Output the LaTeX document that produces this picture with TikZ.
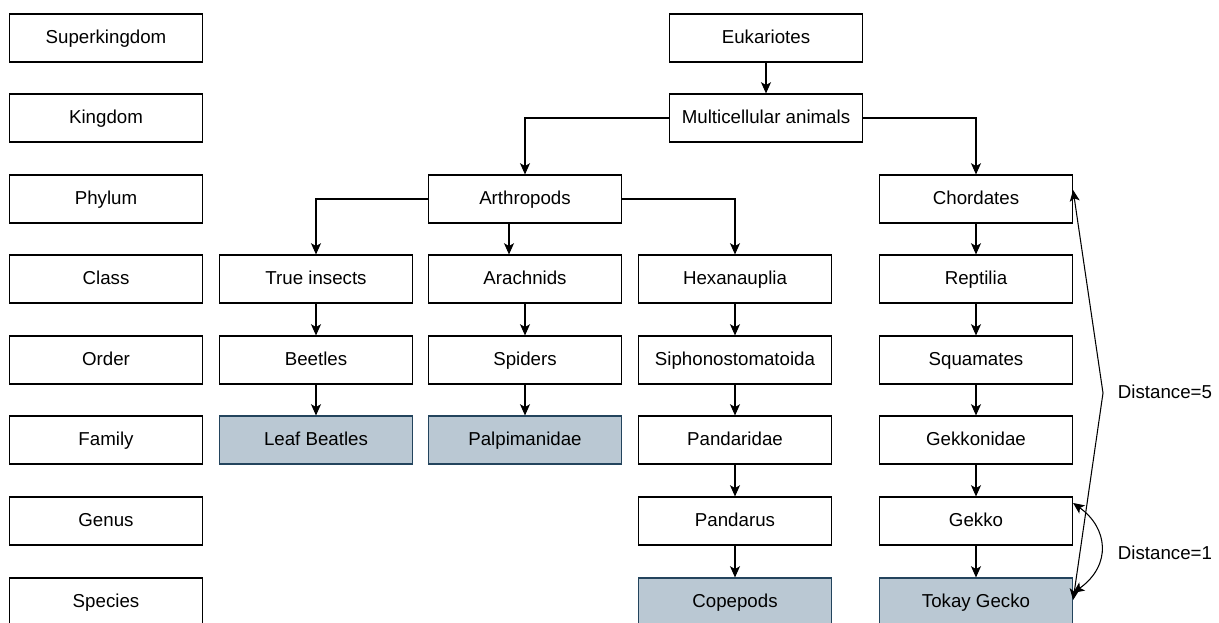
\documentclass[tikz,border=0pt]{standalone}
\usepackage{fontspec}
\setmainfont{Liberation Sans}
\usepackage{tikz}
\usetikzlibrary{arrows.meta,calc}

\definecolor{leaffill}{HTML}{BAC8D3}
\definecolor{leafdraw}{HTML}{23445D}

\tikzset{
  rank/.style={draw, line width=0.8pt, minimum width=4.825cm, minimum height=1.2cm, inner sep=0pt,
    text height=0.84em, text depth=0pt, font=\fontsize{13.3}{15}\selectfont},
  leaf/.style={rank, fill=leaffill, draw=leafdraw},
  arr/.style={line width=0.8pt, -{Stealth[length=2.8mm,width=2.5mm,inset=0.7mm]}},
  dist/.style={line width=0.75pt, {Stealth[length=2.8mm,width=2.5mm,inset=0.7mm]}-{Stealth[length=2.8mm,width=2.5mm,inset=0.7mm]}},
}

\begin{document}
\begin{tikzpicture}[x=0.025cm, y=-0.025cm]
\useasboundingbox (0,0) rectangle (1219,623);
%ranks
\node[rank] (superk) at (106,38) {Superkingdom};
\node[rank] (kingd) at (106,118) {Kingdom};
\node[rank] (phyl) at (106,199) {Phylum};
\node[rank] (clas) at (106,279) {Class};
\node[rank] (ordr) at (106,360) {Order};
\node[rank] (fami) at (106,440) {Family};
\node[rank] (genu) at (106,521) {Genus};
\node[rank] (spec) at (106,602) {Species};
%top
\node[rank] (euk) at (766,38) {Eukariotes};
\node[rank] (multi) at (766,118) {Multicellular animals};
\draw[arr] (euk) -- (multi);
%arthropods
\node[rank] (arth) at (525,199) {Arthropods};
\node[rank] (insects) at (316,279) {True insects};
\node[rank] (beetles) at (316,360) {Beetles};
\node[leaf] (leafb) at (316,440) {Leaf Beatles};
\node[rank] (arach) at (525,279) {Arachnids};
\node[rank] (spiders) at (525,360) {Spiders};
\node[leaf] (palpi) at (525,440) {Palpimanidae};
\node[rank] (hexa) at (735,279) {Hexanauplia};
\node[rank] (sipho) at (735,360) {Siphonostomatoida};
\node[rank] (pandae) at (735,440) {Pandaridae};
\node[rank] (pandus) at (735,521) {Pandarus};
\node[leaf] (cope) at (735,602) {Copepods};
\draw[arr] (multi.west) -| (arth.north);
\draw[arr] (arth.west) -| (insects.north);
\draw[arr] ($(arth.south)+(-16,0)$) -- ($(arach.north)+(-16,0)$);
\draw[arr] (arth.east) -| (hexa.north);
\draw[arr] (insects) -- (beetles);
\draw[arr] (beetles) -- (leafb);
\draw[arr] (arach) -- (spiders);
\draw[arr] (spiders) -- (palpi);
\draw[arr] (hexa) -- (sipho);
\draw[arr] (sipho) -- (pandae);
\draw[arr] (pandae) -- (pandus);
\draw[arr] (pandus) -- (cope);
%chordates
\node[rank] (chord) at (976,199) {Chordates};
\node[rank] (rept) at (976,279) {Reptilia};
\node[rank] (squam) at (976,360) {Squamates};
\node[rank] (gekkon) at (976,440) {Gekkonidae};
\node[rank] (gekko) at (976,521) {Gekko};
\node[leaf] (tokay) at (976,602) {Tokay Gecko};
\draw[arr] (multi.east) -| (chord.north);
\draw[arr] (chord) -- (rept);
\draw[arr] (rept) -- (squam);
\draw[arr] (squam) -- (gekkon);
\draw[arr] (gekkon) -- (gekko);
\draw[arr] (gekko) -- (tokay);
%distances
\coordinate (bend5) at (1103,393);
\draw[dist] ($(tokay.east)+(0,-2)$) -- (bend5) -- ($(chord.east)+(0,-9)$);
\node[anchor=west, font=\fontsize{13.3}{15}\selectfont] (lab5) at (1113,392) {Distance=5};
\draw[dist] ($(gekko.east)+(0,-18)$) .. controls (1108,528) and (1112,565) .. ($(tokay.east)+(0,-9)$);
\node[anchor=west, font=\fontsize{13.3}{15}\selectfont] (lab1) at (1113,553) {Distance=1};
\end{tikzpicture}
\end{document}
